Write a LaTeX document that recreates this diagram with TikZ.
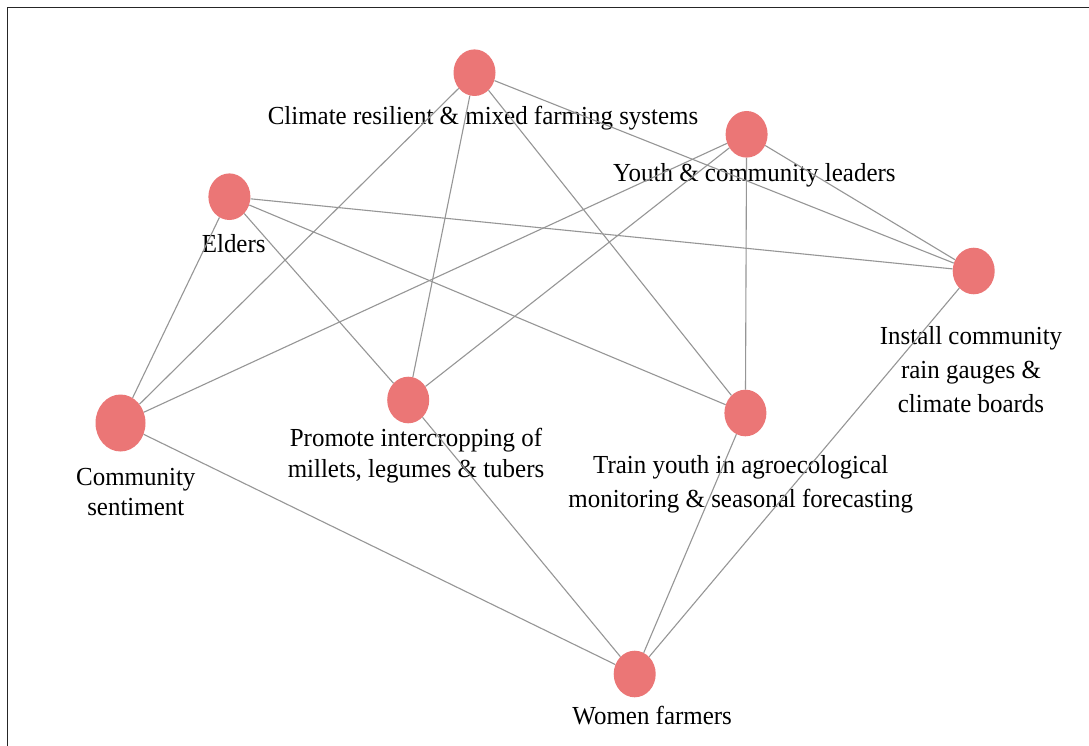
\documentclass[tikz,border=0pt]{standalone}
\usepackage{fontspec}
\setmainfont{Liberation Serif}[FakeStretch=0.96]
\usetikzlibrary{shapes.geometric}
\definecolor{nodecol}{RGB}{235,118,118}
\definecolor{edgecol}{RGB}{150,150,150}
\newcommand{\lbl}[2]{\fontsize{26}{#1}\selectfont\setlength{\tabcolsep}{0pt}\begin{tabular}[t]{c}#2\end{tabular}}
\begin{document}
\begin{tikzpicture}[x=1pt,y=-1pt,
  vert/.style={ellipse,fill=nodecol,draw=none,inner sep=0pt,minimum width=42pt,minimum height=46.6pt},
  bigvert/.style={vert,minimum width=50pt,minimum height=57pt},
  lab/.style={anchor=base,inner sep=0pt,text=black},
  edge/.style={draw=edgecol,line width=1.1pt}]
\useasboundingbox (0,0) rectangle (1089,746);
\fill[white] (0,0) rectangle (1089,746);
\draw[black!85,line width=1.5pt] (7.3,746) -- (7.3,7.3) -- (1089,7.3);
% vertices
\node[vert] (C) at (474.5,72.7) {};
\node[vert] (E) at (229.4,196.7) {};
\node[vert] (Y) at (746.6,134.3) {};
\node[vert] (I) at (973.7,271) {};
\node[bigvert] (S) at (120.5,423) {};
\node[vert] (P) at (408.2,400) {};
\node[vert] (T) at (745.4,413) {};
\node[vert] (W) at (634.7,674) {};
% labels
\node[lab] (Clab) at (483,124.3) {\lbl{30}{Climate resilient \& mixed farming systems}};
\node[lab] (Ylab) at (754.4,181.7) {\lbl{30}{Youth \& community leaders}};
\node[lab] (Elab) at (233.7,252.3) {\lbl{30}{Elders}};
\node[lab] (Ilab) at (971,344.3) {\lbl{34}{Install community\\rain gauges \&\\climate boards}};
\node[lab] (Slab) at (135.8,485.3) {\lbl{30.4}{Community\\sentiment}};
\node[lab] (Plab) at (416,446) {\lbl{31}{Promote intercropping of\\millets, legumes \& tubers}};
\node[lab] (Tlab) at (740.7,473) {\lbl{34}{Train youth in agroecological\\monitoring \& seasonal forecasting}};
\node[lab] (Wlab) at (652.2,724.3) {\lbl{30}{Women farmers}};
% edges
\draw[edge] (C) -- (S);
\draw[edge] (C) -- (P);
\draw[edge] (C) -- (T);
\draw[edge] (C) -- (I);
\draw[edge] (E) -- (I);
\draw[edge] (E) -- (T);
\draw[edge] (E) -- (P);
\draw[edge] (E) -- (S);
\draw[edge] (Y) -- (S);
\draw[edge] (Y) -- (P);
\draw[edge] (Y) -- (T);
\draw[edge] (Y) -- (I);
\draw[edge] (I) -- (W);
\draw[edge] (T) -- (W);
\draw[edge] (P) -- (W);
\draw[edge] (S) -- (W);
\end{tikzpicture}
\end{document}
